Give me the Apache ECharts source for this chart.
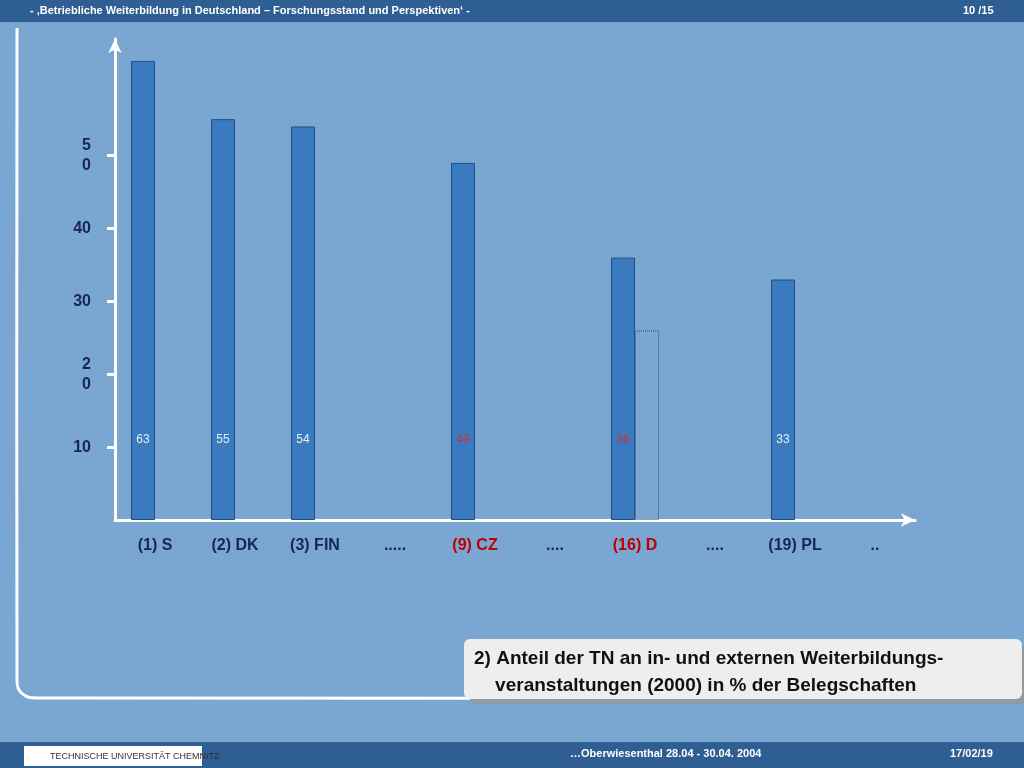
<!DOCTYPE html>
<html><head><meta charset="utf-8">
<script src="https://cdn.jsdelivr.net/npm/echarts@6/dist/echarts.min.js"></script>
<style>html,body{margin:0;padding:0;background:#7aa7d2}#c{width:1024px;height:768px}</style>
</head><body><div id="c"></div>
<script>
const categories = ["(1) S","(2) DK","(3) FIN",".....","(9) CZ","....","(16) D","....","(19) PL",".."];
const values = [63,55,54,null,49,null,36,null,33,null];
const dottedValues = [null,null,null,null,null,null,26,null,null,null];
const yTicks = [10,20,30,40,50];
const yTickLabels = {10:"10",20:"2\n0",30:"30",40:"40",50:"5\n0"};
const redCats = ["(9) CZ","(16) D"];

const barData = values.map((v,i)=>({value:v,label:{color:redCats.includes(categories[i])?'#d03030':'#e8eef6'}}));

const chart = echarts.init(document.getElementById('c'));
chart.setOption({
  backgroundColor:'#7aa7d2',
  animation:false,
  grid:{left:115,right:109,top:39,bottom:248},
  xAxis:{type:'category',data:categories,boundaryGap:true,
    axisLine:{lineStyle:{color:'#fff',width:3},symbol:['none','arrow'],symbolSize:[10,14]},
    axisTick:{show:false},
    axisLabel:{margin:18,fontFamily:'Liberation Sans',fontWeight:'bold',fontSize:16,
      color:(v)=>redCats.includes(v)?'#c00000':'#1a2550'}},
  yAxis:{type:'value',min:0,max:66,
    axisLine:{show:true,lineStyle:{color:'#fff',width:3},symbol:['none','arrow'],symbolSize:[10,14]},
    splitLine:{show:false},
    axisTick:{show:true,customValues:yTicks,length:8,inside:false,lineStyle:{color:'#fff',width:3}},
    axisLabel:{customValues:yTicks,margin:24,fontFamily:'Liberation Sans',fontWeight:'bold',fontSize:16,lineHeight:20,color:'#1a2550',
      formatter:(v)=>yTickLabels[v]||''}},
  series:[
    {type:'bar',data:barData,barWidth:24,barGap:'0%',
      itemStyle:{color:'#3a7bbf',borderColor:'#1f4f86',borderWidth:1},
      label:{show:true,position:'insideBottom',distance:74,fontFamily:'Liberation Sans',fontSize:12}},
    {type:'bar',data:dottedValues,barWidth:24,
      itemStyle:{color:'rgba(0,0,0,0)',borderColor:'#1f4f86',borderWidth:1,borderType:'dotted'}}
  ],
  graphic:[
    {type:'rect',shape:{x:0,y:0,width:1024,height:22},style:{fill:'#2f5e93'},z:-1},
    {type:'text',left:30,top:5,style:{text:'- ‚Betriebliche Weiterbildung in Deutschland – Forschungsstand und Perspektiven‘ -',fill:'#fff',font:'bold 11px Liberation Sans'}},
    {type:'text',left:963,top:5,style:{text:'10 /15',fill:'#fff',font:'bold 11px Liberation Sans'}},
    {type:'rect',shape:{x:0,y:742,width:1024,height:26},style:{fill:'#2f5e93'}},
    {type:'rect',shape:{x:24,y:746,width:178,height:20},style:{fill:'#fff'}},
    {type:'text',left:50,top:752,style:{text:'TECHNISCHE UNIVERSITÄT CHEMNITZ',fill:'#333',font:'9px Liberation Sans'}},
    {type:'text',left:570,top:748,style:{text:'…Oberwiesenthal 28.04 - 30.04. 2004',fill:'#fff',font:'bold 11px Liberation Sans'}},
    {type:'text',left:950,top:748,style:{text:'17/02/19',fill:'#fff',font:'bold 11px Liberation Sans'}},
    {type:'polyline',shape:{points:[[17,28],[17,680],[19,690],[28,697],[40,698],[1024,698]],smooth:0.3},style:{stroke:'#fff',lineWidth:3,fill:null}},
    {type:'rect',shape:{x:470,y:644,width:556,height:60,r:6},style:{fill:'#8f9aa5'}},
    {type:'rect',shape:{x:464,y:639,width:558,height:60,r:6},style:{fill:'#eeeeee'}},
    {type:'text',left:474,top:645,style:{text:'2) Anteil der TN an in- und externen Weiterbildungs-\n    veranstaltungen (2000) in % der Belegschaften',fill:'#111',font:'bold 19px Liberation Sans',lineHeight:27}}
  ]
});
</script></body></html>
